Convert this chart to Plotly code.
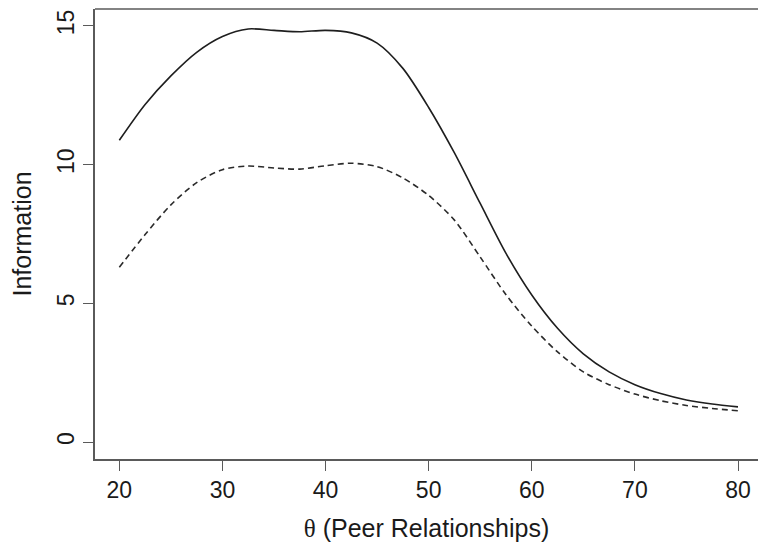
import plotly.graph_objects as go

# theta grid and information curves
theta = [20, 22.5, 25, 27.5, 30, 32.5, 35, 37.5, 40, 42.5, 45, 47.5, 50,
         52.5, 55, 57.5, 60, 62.5, 65, 67.5, 70, 72.5, 75, 77.5, 80]
info_solid = [10.88, 12.17, 13.2, 14.05, 14.62, 14.89, 14.84, 14.79, 14.84,
              14.75, 14.38, 13.47, 12.06, 10.42, 8.6, 6.8, 5.3, 4.1, 3.18,
              2.53, 2.07, 1.75, 1.52, 1.37, 1.27]
info_dashed = [6.3, 7.48, 8.55, 9.35, 9.82, 9.95, 9.88, 9.84, 9.96, 10.05,
               9.93, 9.52, 8.89, 8.0, 6.67, 5.31, 4.18, 3.25, 2.53, 2.07,
               1.73, 1.49, 1.32, 1.21, 1.13]

x_ticks = [20, 30, 40, 50, 60, 70, 80]
y_ticks = [0, 5, 10, 15]

axis_col = "#5a5a5a"
text_col = "#1a1a1a"
font = "Liberation Sans, Arial, sans-serif"

fig = go.Figure()

fig.add_trace(go.Scatter(
    x=theta, y=info_solid, mode="lines",
    line=dict(color="#1e1e1e", width=1.6, shape="spline", smoothing=0.8),
    showlegend=False))

fig.add_trace(go.Scatter(
    x=theta, y=info_dashed, mode="lines",
    line=dict(color="#2a2a2a", width=1.6, dash="6px,4px",
              shape="spline", smoothing=0.8),
    showlegend=False))

# top border of the R-style box (right edge falls outside the picture)
fig.add_shape(type="line", xref="paper", yref="paper",
              x0=0, x1=1, y0=1, y1=1,
              line=dict(color=axis_col, width=1.5))

fig.update_layout(
    width=758, height=545,
    paper_bgcolor="white", plot_bgcolor="white",
    margin=dict(l=95, r=0, t=9, b=86),
    font=dict(family=font, color=text_col),
    xaxis=dict(
        range=[17.64, 81.94], tickvals=x_ticks,
        showgrid=False, zeroline=False,
        showline=True, linecolor=axis_col, linewidth=1.5,
        ticks="outside", ticklen=10, tickwidth=1.2, tickcolor=axis_col,
        tickfont=dict(size=23),
        title=dict(text="<span style='font-family:Liberation Serif'>θ</span> (Peer Relationships)",
                   font=dict(size=25), standoff=17),
    ),
    yaxis=dict(
        range=[-0.61, 15.61], tickvals=y_ticks,
        showgrid=False, zeroline=False,
        showline=True, linecolor=axis_col, linewidth=1.5,
        ticks="outside", ticklen=10, tickwidth=1.2, tickcolor=axis_col,
        tickfont=dict(size=23), tickangle=-90,
        title=dict(text="Information", font=dict(size=25), standoff=14),
    ),
)

# drop the default page margin so the figure fills the window exactly
fig.write_html("out.html",
               config={"displayModeBar": False},
               post_script="document.body.style.margin='0';"
                           "document.body.style.overflow='hidden';")
